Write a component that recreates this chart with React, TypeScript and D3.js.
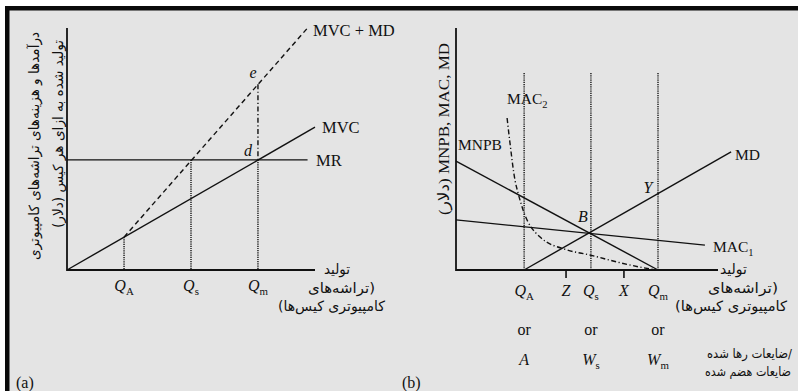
import React from 'react';
import * as d3 from 'd3';

const W = 798;
const H = 391;

// ---- Panel (a): private optimum vs. social optimum ----
const aQuantities = [
  { sub: 'A', q: 2.3 },
  { sub: 's', q: 5.0 },
  { sub: 'm', q: 7.7 },
];
const aMR = 4.55;
const aMVC: [number, number][] = [[0, 0], [10, 5.9]];
const aMVCMD: [number, number][] = [[2.3, 1.36], [9.7, 10]];
const aMRExtent: [number, number] = [0, 9.7];
const aEValue = 7.68;

// ---- Panel (b): abatement costs and damages ----
const bQuantities = [
  { sub: 'A', q: 2.6, alt: 'A', altSub: '' },
  { sub: 's', q: 5.15, alt: 'W', altSub: 's' },
  { sub: 'm', q: 7.71, alt: 'W', altSub: 'm' },
];
const bTicks = [
  { label: 'Z', q: 4.2 },
  { label: 'X', q: 6.41 },
];
const bGuideTop = 8.14;
const bMNPB: [number, number][] = [[0, 4.5], [7.71, 0]];
const bMD: [number, number][] = [[2.6, 0], [10.5, 4.88]];
const bMAC1: [number, number][] = [[0, 2.07], [9.5, 1.03]];
const bMAC2: [number, number][] = [
  [1.95, 6.28], [2.06, 5.25], [2.25, 3.72], [2.37, 3.18], [2.56, 2.48],
  [3.21, 1.36], [4.24, 0.83], [5.11, 0.62], [6.15, 0.33], [7.02, 0.12], [7.67, 0],
];
const bB = 1.5;

const serif = '"Liberation Serif", "Times New Roman", serif';
const persian = '"DejaVu Sans", sans-serif';
const ink = '#111';

const xA = d3.scaleLinear().domain([0, 10]).range([67, 315]);
const yA = d3.scaleLinear().domain([0, 10]).range([270, 28]);
const xB = d3.scaleLinear().domain([0, 10]).range([456, 718]);
const yB = d3.scaleLinear().domain([0, 10]).range([270, 28]);

const lineA = d3.line<[number, number]>().x(d => xA(d[0])).y(d => yA(d[1]));
const lineB = d3.line<[number, number]>().x(d => xB(d[0])).y(d => yB(d[1]));
const curveB = d3
  .line<[number, number]>()
  .x(d => xB(d[0]))
  .y(d => yB(d[1]))
  .curve(d3.curveMonotoneX);

const mvcAt = (q: number) => aMVC[0][1] + ((aMVC[1][1] - aMVC[0][1]) / (aMVC[1][0] - aMVC[0][0])) * q;
const mdAt = (q: number) => ((q - bMD[0][0]) * (bMD[1][1] - bMD[0][1])) / (bMD[1][0] - bMD[0][0]);

const dotted = { stroke: '#000', strokeWidth: 1.3, strokeDasharray: '1.2 1', fill: 'none' };
const solid = { stroke: ink, strokeWidth: 1.4, fill: 'none' };

function QLabel({ x, y, letter, sub, size = 16 }: { x: number; y: number; letter: string; sub: string; size?: number }) {
  return (
    <text x={x} y={y} textAnchor="middle" fontFamily={serif} fontSize={size} fill={ink}>
      <tspan fontStyle="italic">{letter}</tspan>
      {sub ? (
        <tspan fontSize={size * 0.68} dy={4}>
          {sub}
        </tspan>
      ) : null}
    </text>
  );
}

function PersianLine({ x, y, text, len, size = 14 }: { x: number; y: number; text: string; len: number; size?: number }) {
  return (
    <text
      x={x}
      y={y}
      direction="rtl"
      textAnchor="start"
      fontFamily={persian}
      fontSize={size}
      fill={ink}
      textLength={len}
      lengthAdjust="spacingAndGlyphs"
    >
      {text}
    </text>
  );
}

// right-aligned line laid out in a left-to-right paragraph
function RightAlignedLine({ x, y, text, len, size = 13 }: { x: number; y: number; text: string; len: number; size?: number }) {
  return (
    <text x={x - len} y={y} textAnchor="start" fontFamily={persian} fontSize={size} fill={ink} textLength={len} lengthAdjust="spacingAndGlyphs">
      {text}
    </text>
  );
}

export default function App() {
  const qmA = aQuantities[2].q;
  return (
    <svg width={W} height={H} style={{ position: 'absolute', left: 0, top: 0 }} xmlns="http://www.w3.org/2000/svg">
      <rect x={0} y={0} width={W} height={H} fill="#ffffff" />
      <rect x={5} y={6} width={W - 5} height={H - 6} fill="#e4e4e4" />
      <rect x={5} y={6} width={W - 5} height={4.5} fill="#0a0a0a" />
      <rect x={5} y={6} width={4.5} height={H - 6} fill="#0a0a0a" />

      {/* ---------- panel (a) ---------- */}
      <g>
        {/* vertical guides */}
        <line x1={xA(aQuantities[0].q)} x2={xA(aQuantities[0].q)} y1={yA(mvcAt(aQuantities[0].q))} y2={yA(0)} {...dotted} />
        <line x1={xA(aQuantities[1].q)} x2={xA(aQuantities[1].q)} y1={yA(aMR)} y2={yA(0)} {...dotted} />
        <line x1={xA(qmA)} x2={xA(qmA)} y1={yA(aMR)} y2={yA(0)} {...dotted} />
        <line
          x1={xA(qmA)}
          x2={xA(qmA)}
          y1={yA(aEValue)}
          y2={yA(aMR)}
          stroke={ink}
          strokeWidth={1.4}
          strokeDasharray="5 2.5 1.2 2.5"
        />

        {/* curves */}
        <line x1={xA(aMRExtent[0])} x2={xA(aMRExtent[1])} y1={yA(aMR)} y2={yA(aMR)} {...solid} />
        <path d={lineA(aMVC) || ''} {...solid} />
        <path d={lineA(aMVCMD) || ''} stroke={ink} strokeWidth={1.4} strokeDasharray="5 3.5" fill="none" />

        {/* axes */}
        <line x1={xA(0)} x2={xA(0)} y1={yA(10)} y2={yA(0) + 1} stroke={ink} strokeWidth={1.8} />
        <line x1={xA(0)} x2={xA(10)} y1={yA(0)} y2={yA(0)} stroke={ink} strokeWidth={1.8} />

        {/* curve labels */}
        <text x={313} y={36} fontFamily={serif} fontSize={16.5} fill={ink}>MVC + MD</text>
        <text x={322} y={133} fontFamily={serif} fontSize={16.5} fill={ink}>MVC</text>
        <text x={316} y={166} fontFamily={serif} fontSize={16.5} fill={ink}>MR</text>
        <text x={xA(qmA) - 5} y={yA(aEValue) - 6} textAnchor="middle" fontFamily={serif} fontStyle="italic" fontSize={16} fill={ink}>e</text>
        <text x={xA(qmA) - 10} y={yA(aMR) - 4} textAnchor="middle" fontFamily={serif} fontStyle="italic" fontSize={16} fill={ink}>d</text>

        {/* quantity labels */}
        {aQuantities.map(d => (
          <QLabel key={d.sub} x={xA(d.q)} y={291} letter="Q" sub={d.sub} />
        ))}

        {/* axis titles */}
        <PersianLine x={350} y={274} text="تولید" len={26} />
        <PersianLine x={375} y={293} text="(تراشه‌های" len={67} />
        <PersianLine x={385} y={311} text="کامپیوتری کیس‌ها)" len={107} />

        <g transform="translate(39,32) rotate(-90)">
          <text x={0} y={0} direction="rtl" textAnchor="start" fontFamily={persian} fontSize={14} fill={ink} textLength={228} lengthAdjust="spacingAndGlyphs">
            درآمدها و هزینه‌های تراشه‌های کامپیوتری
          </text>
        </g>
        <g transform="translate(63,40) rotate(-90)">
          <text x={0} y={0} direction="rtl" textAnchor="start" fontFamily={persian} fontSize={14} fill={ink} textLength={188} lengthAdjust="spacingAndGlyphs">
            تولید شده به ازای هر کیس (دلار)
          </text>
        </g>

        <text x={16} y={388} fontFamily={serif} fontSize={16} fill={ink}>(a)</text>
      </g>

      {/* ---------- panel (b) ---------- */}
      <g>
        {bQuantities.map(d => (
          <line key={d.sub} x1={xB(d.q)} x2={xB(d.q)} y1={yB(bGuideTop)} y2={yB(0)} {...dotted} />
        ))}

        <path d={lineB(bMNPB) || ''} {...solid} />
        <path d={lineB(bMD) || ''} {...solid} />
        <path d={lineB(bMAC1) || ''} {...solid} />
        <path d={curveB(bMAC2) || ''} stroke={ink} strokeWidth={1.4} strokeDasharray="5 2.5 1.2 2.5" fill="none" />

        {/* axes */}
        <line x1={xB(0)} x2={xB(0)} y1={yB(10)} y2={yB(0) + 1} stroke={ink} strokeWidth={1.8} />
        <line x1={xB(0)} x2={xB(10)} y1={yB(0)} y2={yB(0)} stroke={ink} strokeWidth={1.8} />
        {bTicks.map(t => (
          <line key={t.label} x1={xB(t.q)} x2={xB(t.q)} y1={yB(0)} y2={yB(0) + 8} stroke={ink} strokeWidth={1.6} />
        ))}

        {/* curve labels */}
        <text x={458} y={150} fontFamily={serif} fontSize={15.5} fill={ink}>MNPB</text>
        <text x={507} y={104} fontFamily={serif} fontSize={15.5} fill={ink}>
          MAC<tspan fontSize={10.5} dy={4}>2</tspan>
        </text>
        <text x={735} y={160} fontFamily={serif} fontSize={15.5} fill={ink}>MD</text>
        <text x={713} y={252} fontFamily={serif} fontSize={15.5} fill={ink}>
          MAC<tspan fontSize={10.5} dy={4}>1</tspan>
        </text>
        <text x={xB(bQuantities[1].q) - 8} y={yB(bB) - 12} textAnchor="middle" fontFamily={serif} fontStyle="italic" fontSize={16} fill={ink}>B</text>
        <text x={xB(bQuantities[2].q) - 10} y={yB(mdAt(bQuantities[2].q)) - 1} textAnchor="middle" fontFamily={serif} fontStyle="italic" fontSize={16} fill={ink}>Y</text>

        {/* quantity labels */}
        {bQuantities.map(d => (
          <QLabel key={d.sub} x={xB(d.q)} y={296} letter="Q" sub={d.sub} />
        ))}
        {bTicks.map(t => (
          <text key={t.label} x={xB(t.q)} y={296} textAnchor="middle" fontFamily={serif} fontStyle="italic" fontSize={16} fill={ink}>
            {t.label}
          </text>
        ))}
        {bQuantities.map(d => (
          <text key={'or' + d.sub} x={xB(d.q)} y={335} textAnchor="middle" fontFamily={serif} fontSize={16} fill={ink}>or</text>
        ))}
        {bQuantities.map(d => (
          <QLabel key={'w' + d.sub} x={xB(d.q)} y={365} letter={d.alt} sub={d.altSub} />
        ))}

        {/* axis titles */}
        <PersianLine x={747} y={274} text="تولید" len={27} />
        <PersianLine x={778} y={293} text="(تراشه‌های" len={70} />
        <PersianLine x={787} y={311} text="کامپیوتری کیس‌ها)" len={112} />
        <RightAlignedLine x={792} y={358} text="ضایعات رها شده/" len={85} />
        <RightAlignedLine x={791} y={376} text="ضایعات هضم شده" len={86} size={12.5} />

        <g transform="translate(449,215) rotate(-90)">
          <text x={0} y={0} textAnchor="start" fontFamily={`${serif}, ${persian}`} fontSize={15.5} fill={ink} textLength={172} lengthAdjust="spacingAndGlyphs">
            (دلار) MNPB, MAC, MD
          </text>
        </g>

        <text x={402} y={388} fontFamily={serif} fontSize={16} fill={ink}>(b)</text>
      </g>
    </svg>
  );
}
